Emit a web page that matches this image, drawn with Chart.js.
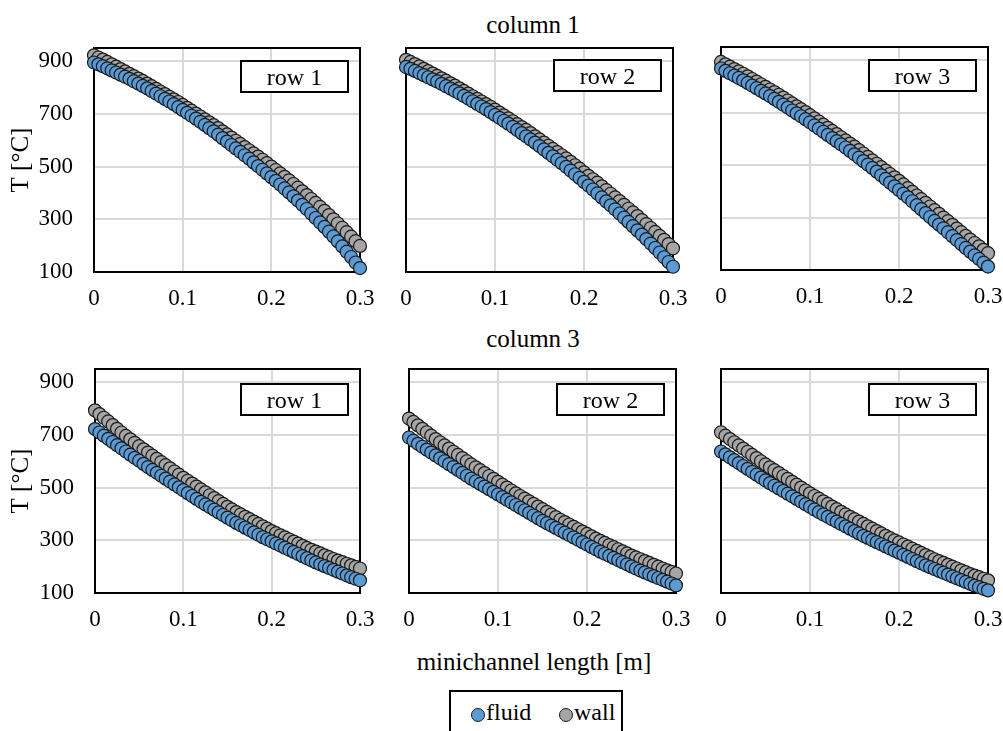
<!DOCTYPE html>
<html>
<head>
<meta charset="utf-8">
<script src="https://cdn.jsdelivr.net/npm/chart.js@4.4.0/dist/chart.umd.min.js"></script>
<style>
  html, body { margin: 0; padding: 0; background: #fff; overflow: hidden; }
  body { width: 1003px; height: 731px; position: relative; font-family: "Liberation Serif", "Times New Roman", serif; color: #000; }
  canvas { position: absolute; }
  .txt { position: absolute; font-size: 25px; line-height: 25px; white-space: nowrap; text-align: center; }
  .legend-box { position: absolute; left: 449px; top: 690px; width: 174px; height: 60px; border: 2px solid #000; box-sizing: border-box; }
  .dot { position: absolute; width: 12px; height: 12px; border-radius: 50%; border: 1.3px solid #1a1a1a; }
  .leg-txt { position: absolute; font-size: 24px; line-height: 24px; white-space: nowrap; }
</style>
</head>
<body>
<div class="txt" style="left:433px; top:12px; width:200px;">column 1</div>
<div class="txt" style="left:433px; top:326px; width:200px;">column 3</div>
<div class="txt" style="left:384px; top:649px; width:300px;">minichannel length [m]</div>
<div class="legend-box"></div>
<span class="dot" style="left:471px; top:708px; background:#5b9bd5;"></span>
<span class="leg-txt" style="left:486px; top:700px;">fluid</span>
<span class="dot" style="left:559px; top:708px; background:#a5a5a5;"></span>
<span class="leg-txt" style="left:574px; top:700px;">wall</span>

<script>
// minichannel positions [m]
const xPos = [0, 0.005, 0.01, 0.015, 0.02, 0.025, 0.03, 0.035, 0.04, 0.045, 0.05,
  0.055, 0.06, 0.065, 0.07, 0.075, 0.08, 0.085, 0.09, 0.095, 0.1,
  0.105, 0.11, 0.115, 0.12, 0.125, 0.13, 0.135, 0.14, 0.145, 0.15,
  0.155, 0.16, 0.165, 0.17, 0.175, 0.18, 0.185, 0.19, 0.195, 0.2,
  0.205, 0.21, 0.215, 0.22, 0.225, 0.23, 0.235, 0.24, 0.245, 0.25,
  0.255, 0.26, 0.265, 0.27, 0.275, 0.28, 0.285, 0.29, 0.295, 0.3];

const xTicks = [0, 0.1, 0.2, 0.3];
const yTicks = [100, 300, 500, 700, 900];
const rowNames = ['row 1', 'row 2', 'row 3'];
const seriesNames = ['fluid', 'wall'];

// column 1
const c1r1Fluid = [895,888,881,873,865,857,849,841,833,824,815, 806,797,787,777,767,757,747,737,726,715,
  704,693,682,670,658,646,634,621,608,595, 582,569,556,543,530,516,502,488,474,460,
  446,432,417,402,387,371,355,339,322,305, 288,271,253,235,216,197,177,157,136,115];
const c1r1Wall = [922,914,906,897,888,879,870,861,852,843,834, 825,815,805,795,785,775,765,755,745,734,
  723,712,701,690,679,668,657,646,634,622, 610,598,586,574,562,550,538,526,513,500,
  487,474,461,448,434,420,406,392,377,362, 347,332,316,300,284,268,251,234,217,199];
const c1r2Fluid = [878,871,863,855,847,839,831,823,814,805,796, 787,778,768,758,748,738,728,718,707,696,
  685,674,663,651,639,627,615,603,591,578, 565,552,539,526,513,499,485,471,457,442,
  428,413,398,383,368,353,338,322,306,290, 274,258,242,225,208,191,174,156,138,120];
const c1r2Wall = [905,897,889,880,871,862,853,844,835,826,816, 807,797,787,777,767,757,747,737,727,716,
  705,694,683,672,661,650,639,627,615,603, 591,579,567,555,543,531,518,505,492,478,
  465,452,439,425,411,397,383,369,355,340, 326,312,297,282,267,252,237,222,206,190];
const c1r3Fluid = [868,859,850,841,832,823,813,803,793,783,773, 763,752,741,730,719,708,697,686,675,663,
  651,639,627,615,603,591,579,567,554,541, 528,515,502,489,475,461,447,433,419,405,
  391,377,362,347,332,317,302,287,273,259, 244,229,214,199,184,170,156,142,128,113];
const c1r3Wall = [893,884,875,866,857,848,838,828,818,808,798, 788,778,768,757,746,735,724,713,702,690,
  678,666,654,642,630,618,606,594,582,570, 557,544,531,518,505,492,479,466,453,440,
  426,412,398,384,370,356,342,328,314,300, 286,272,258,244,230,216,203,190,177,164];

// column 3
const c3r1Fluid = [722,709,697,685,673,661,649,637,625,613,602, 590,578,567,556,545,534,523,512,501,490,
  479,468,457,446,436,426,416,406,396,386, 376,366,357,348,339,330,321,312,304,296,
  288,280,272,264,256,248,240,232,224,216, 209,202,195,188,181,174,167,160,154,148];
const c3r1Wall = [793,779,765,751,737,723,709,696,683,670,657, 645,633,621,609,597,585,573,561,549,537,
  526,515,504,493,482,471,460,449,438,427, 417,407,398,389,380,371,362,353,344,335,
  327,319,311,303,295,287,279,271,264,257, 250,243,236,229,223,217,211,205,199,193];
const c3r2Fluid = [690,678,666,655,644,633,622,611,600,589,578, 567,556,545,534,524,514,504,494,484,474,
  464,454,444,434,424,414,404,394,384,374, 365,356,347,338,329,320,311,302,293,284,
  275,266,257,249,241,233,225,217,209,201, 193,185,178,171,164,157,150,143,136,129];
const c3r2Wall = [762,749,736,723,710,697,684,672,660,648,636, 624,612,600,588,577,566,555,544,533,522,
  511,500,489,478,468,458,448,438,428,418, 408,398,388,378,369,360,351,342,333,324,
  315,306,298,290,282,274,266,258,250,242, 235,228,221,214,207,200,193,186,180,174];
const c3r3Fluid = [637,626,615,604,593,582,571,560,549,538,527, 517,507,497,487,477,467,457,447,437,427,
  417,407,398,389,380,371,362,353,344,335, 326,317,309,301,293,285,277,269,261,253,
  245,237,229,221,213,205,198,191,184,177, 170,163,156,149,142,135,128,122,116,110];
const c3r3Wall = [710,697,684,672,660,648,636,624,612,600,588, 577,566,555,544,533,522,511,500,489,478,
  468,458,448,438,428,418,408,398,389,380, 371,362,353,344,335,326,317,308,300,292,
  284,276,268,260,252,244,236,228,221,214, 207,200,193,186,179,172,166,160,154,148];

Chart.defaults.font.family = '"Liberation Serif", "Times New Roman", serif';
Chart.defaults.color = '#000';

// plot area placement of each panel
const panels = [
  { fluid: c1r1Fluid, wall: c1r1Wall, row: 0, left: 94,  top: 48,  w: 266, h: 224, labels: true,  boxTop: 13 },
  { fluid: c1r2Fluid, wall: c1r2Wall, row: 1, left: 406, top: 48,  w: 267, h: 224, labels: false, boxTop: 12 },
  { fluid: c1r3Fluid, wall: c1r3Wall, row: 2, left: 721, top: 47,  w: 267, h: 223, labels: false, boxTop: 13 },
  { fluid: c3r1Fluid, wall: c3r1Wall, row: 0, left: 95,  top: 369, w: 265, h: 224, labels: true,  boxTop: 15 },
  { fluid: c3r2Fluid, wall: c3r2Wall, row: 1, left: 409, top: 369, w: 267, h: 224, labels: false, boxTop: 15 },
  { fluid: c3r3Fluid, wall: c3r3Wall, row: 2, left: 721, top: 369, w: 267, h: 224, labels: false, boxTop: 15 }
];

const framePlugin = {
  id: 'frame',
  beforeDatasetsDraw(chart) {
    const { ctx, chartArea: a } = chart;
    ctx.save();
    ctx.strokeStyle = '#000';
    ctx.lineWidth = 2;
    ctx.strokeRect(a.left, a.top, a.right - a.left, a.bottom - a.top);
    ctx.restore();
  },
  afterDatasetsDraw(chart, args, opts) {
    const { ctx, chartArea: a } = chart;
    const w = 107, h = 31;
    const x = Math.round(a.right - 12 - w), y = Math.round(a.top + opts.boxTop);
    ctx.save();
    ctx.fillStyle = '#fff';
    ctx.fillRect(x, y, w, h);
    ctx.strokeStyle = '#000';
    ctx.lineWidth = 2;
    ctx.strokeRect(x, y, w, h);
    ctx.fillStyle = '#000';
    ctx.font = '24px "Liberation Serif"';
    ctx.textAlign = 'center';
    ctx.textBaseline = 'alphabetic';
    ctx.fillText(opts.text, x + w / 2, y + 24);
    ctx.restore();
  }
};

const PAD_TOP = 18, PAD_RIGHT = 18, X_AXIS_H = 40;

// keep the plot area where we put it: no extra room for edge labels
const noEdgePad = (s) => { s.paddingTop = 0; s.paddingBottom = 0; s.paddingLeft = 0; s.paddingRight = 0; };

panels.forEach((p) => {
  const yW = p.labels ? p.left : 26;
  const canvas = document.createElement('canvas');
  canvas.width = yW + p.w + PAD_RIGHT;
  canvas.height = PAD_TOP + p.h + X_AXIS_H;
  canvas.style.left = (p.left - yW) + 'px';
  canvas.style.top = (p.top - PAD_TOP) + 'px';
  document.body.appendChild(canvas);

  const toPoints = (arr) => xPos.map((x, i) => ({ x, y: arr[i] }));

  new Chart(canvas, {
    type: 'scatter',
    data: {
      datasets: [
        { label: seriesNames[0], data: toPoints(p.fluid), backgroundColor: '#5b9bd5' },
        { label: seriesNames[1], data: toPoints(p.wall), backgroundColor: '#a5a5a5' }
      ].map(d => Object.assign(d, {
        pointRadius: 6.5, pointBorderWidth: 1.2, borderColor: '#1a1a1a', pointBorderColor: '#1a1a1a', clip: false
      }))
    },
    options: {
      responsive: false,
      animation: false,
      devicePixelRatio: 1,
      events: [],
      layout: { padding: { top: PAD_TOP, right: PAD_RIGHT, left: 0, bottom: 0 } },
      plugins: {
        legend: { display: false },
        tooltip: { enabled: false },
        frame: { text: rowNames[p.row], boxTop: p.boxTop }
      },
      scales: {
        x: {
          type: 'linear', min: 0, max: 0.3,
          afterBuildTicks: s => { s.ticks = xTicks.map(v => ({ value: v })); },
          afterFit: s => { s.height = X_AXIS_H; noEdgePad(s); },
          grid: { color: '#d9d9d9', lineWidth: 2, drawTicks: false },
          border: { display: false },
          ticks: { padding: 13, font: { size: 23 }, color: '#000', maxRotation: 0, autoSkip: false, callback: v => String(v) }
        },
        y: {
          type: 'linear', min: 100, max: 950,
          afterBuildTicks: s => { s.ticks = yTicks.map(v => ({ value: v })); },
          afterFit: s => { s.width = yW; noEdgePad(s); },
          grid: { color: '#d9d9d9', lineWidth: 2, drawTicks: false },
          border: { display: false },
          ticks: { display: p.labels, padding: 21, font: { size: 23 }, color: '#000', autoSkip: false },
          title: { display: p.labels, text: 'T [°C]', font: { size: 25 }, color: '#000', padding: { top: 6, bottom: 0 } }
        }
      }
    },
    plugins: [framePlugin]
  });
});
</script>
</body>
</html>
